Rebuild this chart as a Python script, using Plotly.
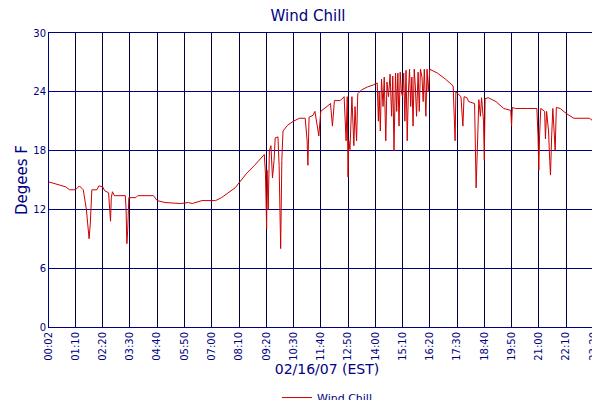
import plotly.graph_objects as go

times = ["00:02","00:20","00:45","00:55","01:10","01:20","01:30","01:38","01:42","01:45","01:48","01:52","02:05","02:10","02:20","02:25","02:35","02:38","02:40","02:42","02:45","02:50","03:18","03:20","03:22","03:24","03:27","03:45","03:50","04:30","04:40","05:00","05:40","06:00","06:10","06:35","07:10","07:25","07:40","08:00","08:10","08:30","08:50","09:10","09:15","09:18","09:20","09:21","09:22","09:25","09:28","09:32","09:36","09:40","09:43","09:50","09:53","09:55","09:57","10:00","10:03","10:15","10:30","10:45","11:00","11:05","11:07","11:10","11:20","11:25","11:35","11:40","11:50","12:05","12:10","12:15","12:30","12:40","12:45","12:48","12:50","12:52","12:55","13:00","13:05","13:08","13:12","13:15","13:25","13:40","13:55","14:05","14:08","14:10","14:13","14:16","14:20","14:23","14:27","14:30","14:34","14:38","14:42","14:45","14:48","14:52","14:55","14:58","15:01","15:04","15:07","15:10","15:13","15:16","15:19","15:22","15:25","15:28","15:31","15:34","15:37","15:40","15:43","15:46","15:50","15:53","15:56","16:00","16:03","16:06","16:10","16:13","16:16","16:20","16:40","17:00","17:20","17:25","17:27","17:30","17:40","17:45","17:48","17:55","18:00","18:15","18:17","18:19","18:22","18:26","18:30","18:33","18:38","18:40","18:42","18:50","19:10","19:30","19:48","19:50","19:52","20:00","20:30","20:55","20:58","21:00","21:02","21:05","21:15","21:17","21:20","21:25","21:28","21:30","21:33","21:36","21:42","21:45","21:55","22:10","22:30","23:10","23:20","23:35","23:40","23:45","23:50"]
wind_chill = [14.8,14.6,14.3,14.0,14.0,14.4,14.0,12.0,10.4,9.0,10.5,14.0,14.0,14.4,14.3,13.9,13.7,11.2,10.8,13.2,13.8,13.4,13.4,12.0,8.5,9.8,13.2,13.2,13.4,13.4,12.9,12.7,12.6,12.7,12.6,12.9,12.9,13.2,13.6,14.2,14.7,15.7,16.5,17.4,17.6,15.6,12.0,10.0,16.0,12.0,18.0,18.5,15.2,17.0,19.3,19.4,16.5,11.0,8.0,17.0,20.0,20.6,21.0,21.3,21.3,19.0,16.5,21.4,21.6,22.0,19.5,22.0,22.3,22.8,20.5,23.1,23.1,23.5,19.0,23.5,15.3,19.0,18.1,23.5,18.5,22.5,19.0,23.8,24.2,24.5,24.7,24.9,21.0,24.0,20.0,25.3,22.5,25.5,19.0,25.0,23.5,25.8,21.5,25.6,18.0,25.9,22.0,25.9,20.5,26.0,24.0,23.5,25.9,21.0,26.2,19.0,24.0,26.3,22.5,25.5,20.5,26.3,24.5,21.5,26.0,22.0,26.3,25.5,23.0,26.3,21.5,26.3,24.0,26.3,25.9,25.3,24.6,19.0,24.0,23.9,23.5,20.5,23.5,23.4,23.0,22.8,17.5,14.2,18.0,23.2,21.5,23.4,21.0,17.0,23.3,23.4,23.0,22.3,22.1,20.5,22.4,22.3,22.3,22.3,19.5,16.0,19.5,22.3,22.0,19.2,22.0,20.0,17.0,15.5,19.5,22.3,18.0,22.4,22.3,21.8,21.3,21.3,21.0,21.0,20.7,21.1,21.0]
tick_labels = ["00:02","01:10","02:20","03:30","04:40","05:50","07:00","08:10","09:20","10:30","11:40","12:50","14:00","15:10","16:20","17:30","18:40","19:50","21:00","22:10","23:20","23:50"]
y_ticks = [0, 6, 12, 18, 24, 30]

def to_min(t):
    h, m = t.split(":")
    return int(h) * 60 + int(m)

x = [to_min(t) for t in times]
tick_vals = [to_min(t) for t in tick_labels]

navy = "#000080"
fig = go.Figure(go.Scatter(x=x, y=wind_chill, mode="lines", line=dict(color="#cc0000", width=1),
                           name="Wind Chill"))
fig.update_layout(
    width=600, height=400, margin=dict(l=41, r=3, t=25, b=81, autoexpand=False),
    paper_bgcolor="white", plot_bgcolor="white",
    font=dict(family="DejaVu Sans", color=navy, size=11),
    title=dict(text="Wind Chill", x=0.5, xanchor="center", y=0.995, yanchor="top", font=dict(size=15, color=navy)),
    showlegend=True,
    legend=dict(orientation="h", x=0.5, xanchor="center", y=-0.24, yanchor="middle", font=dict(size=11, color=navy)),
    xaxis=dict(range=[2, 1430], tickvals=tick_vals, ticktext=tick_labels, tickangle=-90, automargin=False,
               showgrid=True, gridcolor="#000040", gridwidth=1, showline=True, linecolor=navy, mirror=True,
               zeroline=False, tickfont=dict(size=10, color=navy),
               title=dict(text="02/16/07 (EST)", font=dict(size=14, color=navy), standoff=4)),
    yaxis=dict(range=[0, 30], tickvals=y_ticks, showgrid=True, gridcolor=navy, gridwidth=1, automargin=False,
               showline=True, linecolor=navy, mirror=True, zeroline=False, tickfont=dict(size=10, color=navy),
               title=dict(text="Degees F", font=dict(size=15, color=navy), standoff=2)),
)
fig.write_html("out.html")
